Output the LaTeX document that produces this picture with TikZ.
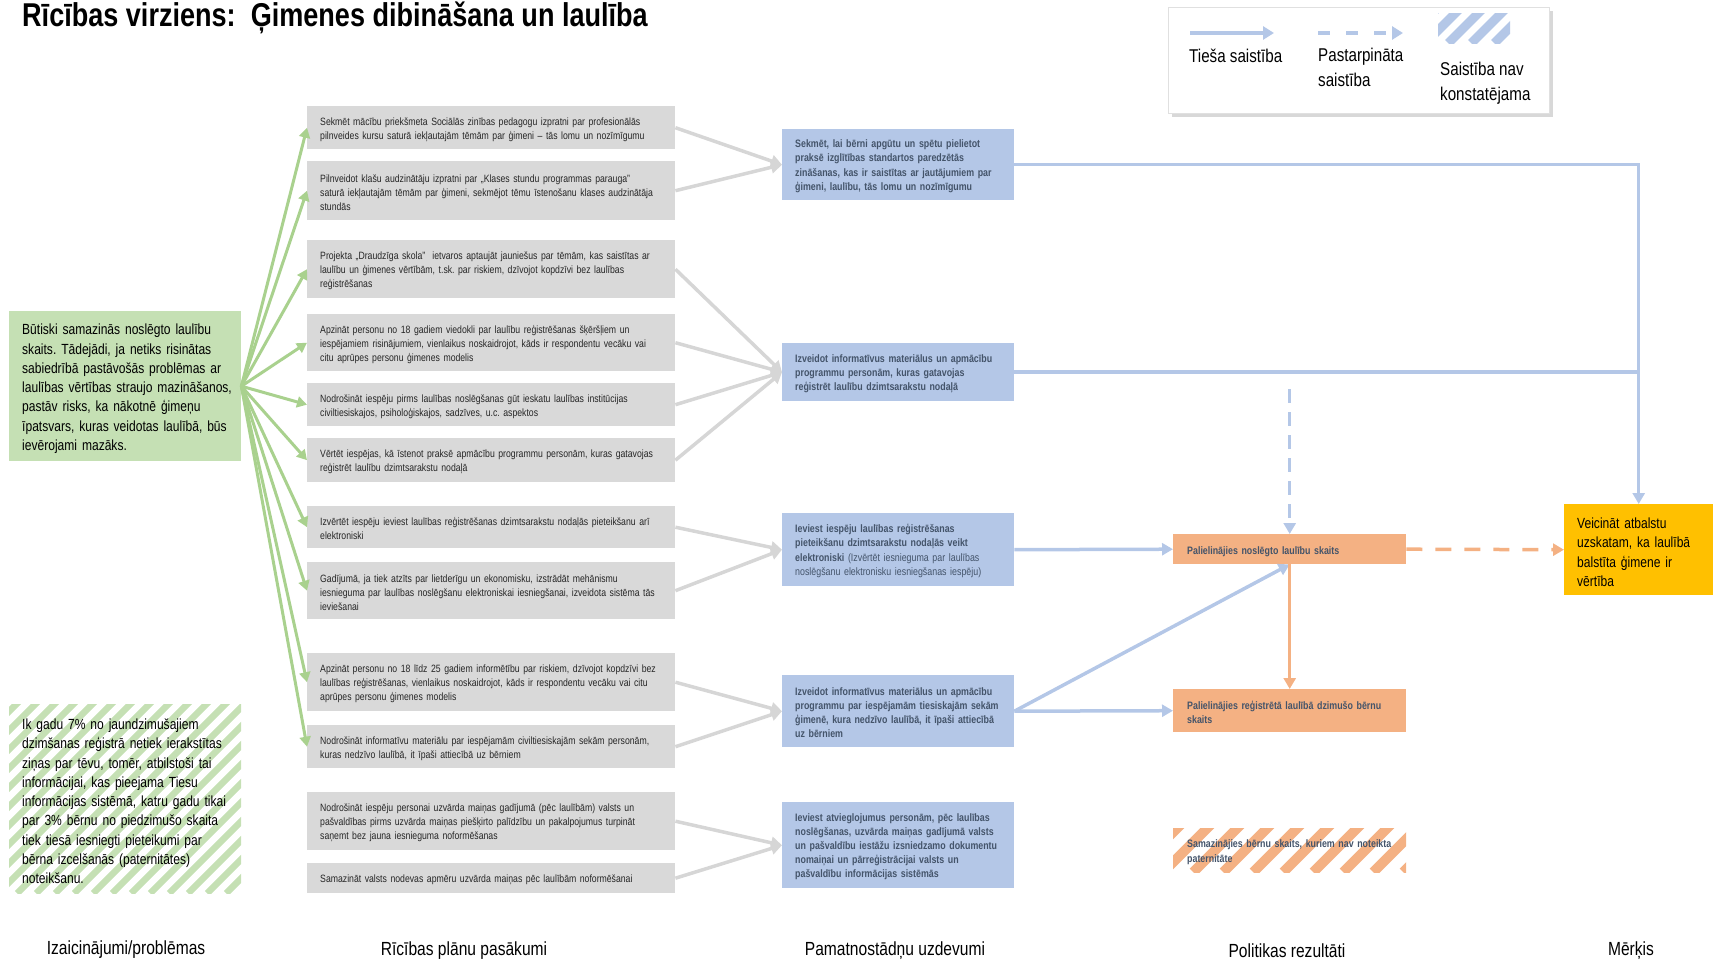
\documentclass[tikz,border=0pt]{standalone}
\usepackage{fontspec}
\setmainfont{Liberation Sans}[FakeStretch=0.82]
\usetikzlibrary{arrows.meta,calc,shadows}
\frenchspacing
\hyphenpenalty=10000
\exhyphenpenalty=10000
\definecolor{grayfill}{HTML}{D9D9D9}
\definecolor{grayarrow}{HTML}{D6D6D6}
\definecolor{greenfill}{HTML}{C5E0B4}
\definecolor{greenline}{HTML}{A9D18E}
\definecolor{bluefill}{HTML}{B4C7E7}
\definecolor{blueline}{HTML}{B4C7E7}
\definecolor{orangefill}{HTML}{F4B183}
\definecolor{yellowfill}{HTML}{FFC000}
\definecolor{bluetext}{HTML}{44546A}
\definecolor{graytext}{HTML}{262626}
\begin{document}
\begin{tikzpicture}[x=1pt,y=-1pt,
  hatch/.style n args={3}{path picture={%
    \foreach \i in {0,...,40}{%
      \draw[line width=#3, draw=#1] ($(path picture bounding box.south west)+({\i*#2-220},0)$) -- ++(220,-220);}}},
  pasbox/.style={fill=grayfill, anchor=north west, text width=342pt, inner xsep=13pt, inner ysep=0pt,
    text height=11.5pt, font=\fontsize{10.6}{14}\selectfont, text=graytext, align=left},
  uzbox/.style={fill=bluefill, anchor=north west, text width=206pt, inner xsep=13pt, inner ysep=0pt,
    text height=11pt, font=\bfseries\fontsize{10.8}{14.2}\selectfont, text=bluetext, align=left},
  rezbox/.style={anchor=north west, text width=205pt, inner xsep=14pt, inner ysep=0pt,
    text height=12pt, font=\bfseries\fontsize{10.8}{14.2}\selectfont, text=bluetext, align=left},
  bigtext/.style={anchor=north west, text width=220pt, inner xsep=6pt, inner ysep=0pt,
    text height=16pt, execute at begin node={\leftskip=7pt}, font=\fontsize{14.7}{19.3}\selectfont, text=black, align=left},
  collabel/.style={inner sep=0pt, font=\fontsize{19}{22}\selectfont, text=black},
  legtext/.style={inner sep=0pt, font=\fontsize{18.5}{25}\selectfont, text=black, align=left, anchor=west},
  greenarr/.style={draw=greenline, line width=3pt, -{Triangle[length=10pt,width=11pt]}},
  grayarr/.style={draw=grayarrow, line width=3.5pt, -{Triangle[length=11pt,width=12pt]}},
  bluearr/.style={draw=blueline, line width=3.5pt, -{Triangle[length=11pt,width=12pt]}},
  blueplain/.style={draw=blueline, line width=3.5pt},
  orangearr/.style={draw=orangefill, line width=3.5pt, -{Triangle[length=11pt,width=12pt]}},
]
\useasboundingbox (0,0) rectangle (1713,963);

% title
\node[anchor=base west, inner sep=0pt, font=\bfseries\fontsize{33}{36}\selectfont] (title) at (22,27)
  {Rīcības virziens:\ \ Ģimenes dibināšana un laulība};

% legend
\node[anchor=north west, fill=white, draw=black!12, minimum width=381pt, minimum height=106pt,
  drop shadow={shadow xshift=4pt,shadow yshift=-4pt,fill=black!30}] (legend) at (1168,7) {};
\coordinate (lsA) at (1190,33); \coordinate (lsB) at (1274,33);
\draw[draw=blueline, line width=4pt, -{Triangle[length=11pt,width=13pt]}] (lsA) -- (lsB);
\coordinate (ldA) at (1318,33); \coordinate (ldB) at (1403,33);
\draw[draw=blueline, line width=4pt, dash pattern=on 12pt off 16pt, -{Triangle[length=11pt,width=13pt]}] (ldA) -- (ldB);
\node[anchor=north west, minimum width=72pt, minimum height=30pt, inner sep=0pt, hatch={blueline}{23}{9pt}] (lhatch) at (1438,13) {};
\node[legtext] (lt1) at (1189,56) {Tieša saistība};
\node[legtext] (lt2) at (1318,67.5) {Pastarpināta\\saistība};
\node[legtext] (lt3) at (1440,83.5) {Saistība nav\\konstatējama};

% problems
\node[bigtext, fill=greenfill, minimum height=150pt] (prob1) at (9,311)
  {Būtiski samazinās noslēgto laulību\\ skaits. Tādejādi, ja netiks risinātas\\ sabiedrībā pastāvošās problēmas ar\\ laulības vērtības straujo mazināšanos,\\ pastāv risks, ka nākotnē ģimeņu\\ īpatsvars, kuras veidotas laulībā, būs\\ ievērojami mazāks.};
\node[bigtext, minimum height=189pt, hatch={greenfill}{19}{6.5pt}] (prob2) at (9,704)
  {Ik gadu 7\% no jaundzimušajiem\\ dzimšanas reģistrā netiek ierakstītas\\ ziņas par tēvu, tomēr, atbilstoši tai\\ informācijai, kas pieejama Tiesu\\ informācijas sistēmā, katru gadu tikai\\ par 3\% bērnu no piedzimušo skaita\\ tiek tiesā iesniegti pieteikumi par\\ bērna izcelšanās (paternitātes)\\ noteikšanu.};

% measures
\node[pasbox, minimum height=43pt] (pa1) at (307,106)
  {Sekmēt mācību priekšmeta Sociālās zinības pedagogu izpratni par profesionālās\\ pilnveides kursu saturā iekļautajām tēmām par ģimeni – tās lomu un nozīmīgumu};
\node[pasbox, minimum height=59pt] (pa2) at (307,161)
  {Pilnveidot klašu audzinātāju izpratni par ,,Klases stundu programmas parauga”\\ saturā iekļautajām tēmām par ģimeni, sekmējot tēmu īstenošanu klases audzinātāja\\ stundās};
\node[pasbox, minimum height=58pt] (pa3) at (307,240)
  {Projekta „Draudzīga skola”\ \ ietvaros aptaujāt jauniešus par tēmām, kas saistītas ar\\ laulību un ģimenes vērtībām, t.sk. par riskiem, dzīvojot kopdzīvi bez laulības\\ reģistrēšanas};
\node[pasbox, minimum height=57pt] (pa4) at (307,314)
  {Apzināt personu no 18 gadiem viedokli par laulību reģistrēšanas šķēršļiem un\\ iespējamiem risinājumiem, vienlaikus noskaidrojot, kāds ir respondentu vecāku vai\\ citu aprūpes personu ģimenes modelis};
\node[pasbox, minimum height=43pt] (pa5) at (307,383)
  {Nodrošināt iespēju pirms laulības noslēgšanas gūt ieskatu laulības institūcijas\\ civiltiesiskajos, psiholoģiskajos, sadzīves, u.c. aspektos};
\node[pasbox, minimum height=44pt] (pa6) at (307,438)
  {Vērtēt iespējas, kā īstenot praksē apmācību programmu personām, kuras gatavojas\\ reģistrēt laulību dzimtsarakstu nodaļā};
\node[pasbox, minimum height=42pt] (pa7) at (307,506)
  {Izvērtēt iespēju ieviest laulības reģistrēšanas dzimtsarakstu nodaļās pieteikšanu arī\\ elektroniski};
\node[pasbox, minimum height=57pt] (pa8) at (307,562)
  {Gadījumā, ja tiek atzīts par lietderīgu un ekonomisku, izstrādāt mehānismu\\ iesnieguma par laulības noslēgšanu elektroniskai iesniegšanai, izveidota sistēma tās\\ ieviešanai};
\node[pasbox, minimum height=58pt] (pa9) at (307,653)
  {Apzināt personu no 18 līdz 25 gadiem informētību par riskiem, dzīvojot kopdzīvi bez\\ laulības reģistrēšanas, vienlaikus noskaidrojot, kāds ir respondentu vecāku vai citu\\ aprūpes personu ģimenes modelis};
\node[pasbox, minimum height=43pt] (pa10) at (307,725)
  {Nodrošināt informatīvu materiālu par iespējamām civiltiesiskajām sekām personām,\\ kuras nedzīvo laulībā, it īpaši attiecībā uz bērniem};
\node[pasbox, minimum height=58pt] (pa11) at (307,792)
  {Nodrošināt iespēju personai uzvārda maiņas gadījumā (pēc laulībām) valsts un\\ pašvaldības pirms uzvārda maiņas piešķirto palīdzību un pakalpojumus turpināt\\ saņemt bez jauna iesnieguma noformēšanas};
\node[pasbox, minimum height=30pt] (pa12) at (307,863)
  {Samazināt valsts nodevas apmēru uzvārda maiņas pēc laulībām noformēšanai};

% tasks
\node[uzbox, minimum height=71pt] (uz1) at (782,129)
  {Sekmēt, lai bērni apgūtu un spētu pielietot\\ praksē izglītības standartos paredzētās\\ zināšanas, kas ir saistītas ar jautājumiem par\\ ģimeni, laulību, tās lomu un nozīmīgumu};
\node[uzbox, minimum height=58pt] (uz2) at (782,343)
  {Izveidot informatīvus materiālus un apmācību\\ programmu personām, kuras gatavojas\\ reģistrēt laulību dzimtsarakstu nodaļā};
\node[uzbox, minimum height=73pt] (uz3) at (782,513)
  {Ieviest iespēju laulības reģistrēšanas\\ pieteikšanu dzimtsarakstu nodaļās veikt\\ elektroniski {\mdseries (Izvērtēt iesnieguma par laulības\\ noslēgšanu elektronisku iesniegšanas iespēju)}};
\node[uzbox, minimum height=72pt] (uz4) at (782,675)
  {Izveidot informatīvus materiālus un apmācību\\ programmu par iespējamām tiesiskajām sekām\\ ģimenē, kura nedzīvo laulībā, it īpaši attiecībā\\ uz bērniem};
\node[uzbox, minimum height=86pt] (uz5) at (782,802)
  {Ieviest atvieglojumus personām, pēc laulības\\ noslēgšanas, uzvārda maiņas gadījumā valsts\\ un pašvaldību iestāžu izsniedzamo dokumentu\\ nomaiņai un pārreģistrācijai valsts un\\ pašvaldību informācijas sistēmās};

% results
\node[rezbox, fill=orangefill, minimum height=30pt] (rez1) at (1173,534)
  {Palielinājies noslēgto laulību skaits};
\node[rezbox, fill=orangefill, minimum height=43pt] (rez2) at (1173,689)
  {Palielinājies reģistrētā laulībā dzimušo bērnu\\ skaits};
\node[rezbox, minimum height=44pt, hatch={orangefill}{30}{10pt}] (rez3) at (1173,828)
  {Samazinājies bērnu skaits, kuriem nav noteikta\\ paternitāte};

% goal
\node[anchor=north west, fill=yellowfill, text width=123pt, inner xsep=13pt, inner ysep=0pt,
  text height=16pt, minimum height=91pt, font=\fontsize{14.7}{19.3}\selectfont, align=left] (merkis) at (1564,504)
  {Veicināt atbalstu\\ uzskatam, ka laulībā\\ balstīta ģimene ir\\ vērtība};

% column labels
\node[collabel] (c1) at (126,950) {Izaicinājumi/problēmas};
\node[collabel] (c2) at (464,951) {Rīcības plānu pasākumi};
\node[collabel] (c3) at (895,951) {Pamatnostādņu uzdevumi};
\node[collabel] (c4) at (1287,951) {Politikas rezultāti};
\node[collabel] (c5) at (1631,951) {Mērķis};

% green arrows
\foreach \k in {1,...,10}{\draw[greenarr] (prob1.east) -- (pa\k.west);}

% gray arrows
\foreach \k in {1,2}{\draw[grayarr] (pa\k.east) -- (uz1.west);}
\foreach \k in {3,4,5,6}{\draw[grayarr] (pa\k.east) -- (uz2.west);}
\foreach \k in {7,8}{\draw[grayarr] (pa\k.east) -- (uz3.west);}
\foreach \k in {9,10}{\draw[grayarr] (pa\k.east) -- (uz4.west);}
\foreach \k in {11,12}{\draw[grayarr] (pa\k.east) -- (uz5.west);}

% blue connectors
\draw[bluearr] (uz1.east) -| (merkis.north);
\draw[blueplain] (uz2.east) -- (uz2.east -| merkis.north);
\coordinate (dashstart) at ($(uz2.east -| rez1.north)+(0,17)$);
\draw[bluearr, dash pattern=on 14pt off 9pt] (dashstart) -- (rez1.north);
\draw[bluearr] (uz3.east) -- (rez1.west);
\draw[bluearr] (uz4.east) -- (rez2.west);
\draw[bluearr] (uz4.east) -- (rez1.south);

% orange connectors
\draw[orangearr] (rez1.south) -- (rez2.north);
\draw[orangearr, dash pattern=on 16pt off 13pt] (rez1.east) -- (merkis.west);
\end{tikzpicture}
\end{document}
